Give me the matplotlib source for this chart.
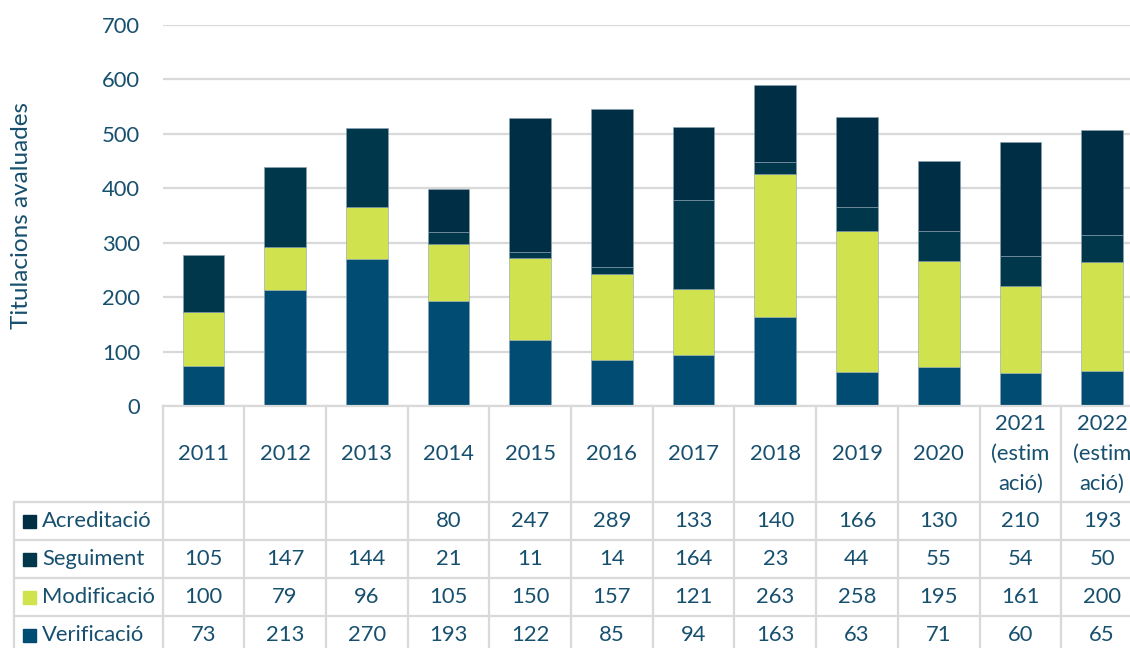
import matplotlib.pyplot as plt
import matplotlib.transforms as mtransforms
import numpy as np

plt.rcParams['font.family'] = ['Lato', 'DejaVu Sans']

years = ['2011', '2012', '2013', '2014', '2015', '2016', '2017', '2018', '2019', '2020',
         '2021\n(estim\nació)', '2022\n(estim\nació)']
acreditacio = [None, None, None, 80, 247, 289, 133, 140, 166, 130, 210, 193]
seguiment = [105, 147, 144, 21, 11, 14, 164, 23, 44, 55, 54, 50]
modificacio = [100, 79, 96, 105, 150, 157, 121, 263, 258, 195, 161, 200]
verificacio = [73, 213, 270, 193, 122, 85, 94, 163, 63, 71, 60, 65]

series = [('Acreditació', acreditacio, '#002f45'),
          ('Seguiment', seguiment, '#00374b'),
          ('Modificació', modificacio, '#d1e24f'),
          ('Verificació', verificacio, '#004c72')]

txt = '#17506f'
grid = '#d9d9d9'
fs = 15.8
W, H = 1130, 648
fig = plt.figure(figsize=(W / 100, H / 100), dpi=100)

x0, x1 = 162.5, 1143.0
ytop, ybot = 25, 406
ax = fig.add_axes([x0 / W, (H - ybot) / H, (x1 - x0) / W, (ybot - ytop) / H])
x = np.arange(len(years))
bottom = np.zeros(len(years))
for name, vals, col in reversed(series):
    v = np.array([0 if a is None else a for a in vals], dtype=float)
    ax.bar(x, v, 0.51, bottom=bottom, color=col, edgecolor='#8aa3b1', linewidth=0.4, zorder=3)
    bottom += v
ax.set_xlim(-0.5, len(years) - 0.5)
ax.set_ylim(0, 700)
ax.set_yticks(range(0, 701, 100))
ax.yaxis.grid(True, color=grid, linewidth=1.6, zorder=0)
ax.set_xticks([])
for s in ax.spines.values():
    s.set_visible(False)
ax.tick_params(axis='y', length=0, pad=16, labelsize=fs, labelcolor=txt)
fig.text(22 / W, 1 - 216 / H, 'Titulacions avaluades', rotation=90, ha='center', va='center',
         fontsize=17.5, color=txt)

# table below the axis
tr = mtransforms.blended_transform_factory(ax.transData, fig.dpi_scale_trans)
def py(p):
    return (H - p) / 100

row_tops = [502, 540, 578, 616, 654]
bounds = np.arange(len(years) + 1) - 0.5
# header row
for b in bounds:
    fig.add_artist(plt.Line2D([b, b], [py(ybot), py(H + 10)], transform=tr, color=grid, lw=1.6))
fig.add_artist(plt.Line2D([bounds[0], bounds[-1]], [py(ybot), py(ybot)], transform=tr, color=grid, lw=1.6))
lx = 14
for r in row_tops:
    fig.add_artist(plt.Line2D([lx / W, 1.02], [1 - r / H, 1 - r / H], transform=fig.transFigure,
                              color=grid, lw=1.6))
fig.add_artist(plt.Line2D([lx / W, lx / W], [1 - 502 / H, 0], transform=fig.transFigure, color=grid, lw=1.6))

for i, y in enumerate(years):
    ax.text(i, py(454), y, transform=tr, ha='center', va='center', fontsize=fs, color=txt,
            linespacing=1.6)

for k, (name, vals, col) in enumerate(series):
    yc = (row_tops[k] + row_tops[k + 1]) / 2
    fig.add_artist(plt.Rectangle((23 / W, 1 - (yc + 6.5) / H), 13 / W, 13 / H,
                                 transform=fig.transFigure, color=col))
    fig.text(42 / W, 1 - yc / H, name, ha='left', va='center', fontsize=fs, color=txt)
    for i, v in enumerate(vals):
        if v is not None:
            ax.text(i, py(yc), str(v), transform=tr, ha='center', va='center', fontsize=fs, color=txt)

fig.savefig('out.png', dpi=100)
